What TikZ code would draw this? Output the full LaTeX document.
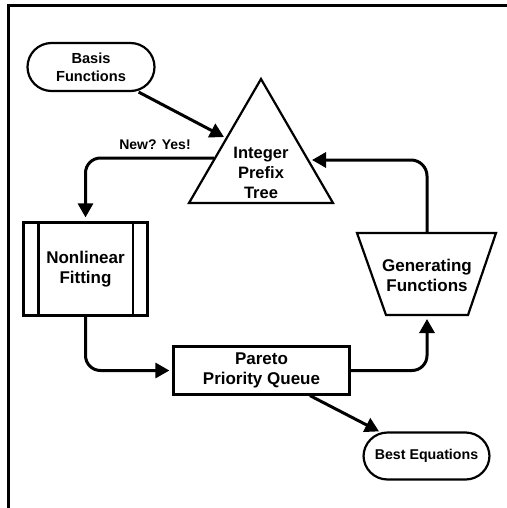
\documentclass[tikz,border=0pt]{standalone}
\usepackage{fontspec}
\setmainfont{Liberation Sans}
\usetikzlibrary{arrows.meta}
\begin{document}
\begin{tikzpicture}[x=1pt,y=1pt,
  shp/.style={draw, line width=2.2pt},
  arr/.style={line width=3pt, -{Triangle[length=14pt,width=15pt]}},
  lab/.style={font=\bfseries\fontsize{17}{20}\selectfont, align=center, inner sep=0pt}
]
\useasboundingbox (0,0) rectangle (506,-508);
\draw[line width=3pt] (8,-510) -- (8,-6) -- (510,-6);

% Basis Functions
\node[shp, rounded corners=24pt, minimum width=127pt, minimum height=48pt,
      font=\bfseries\fontsize{14.6}{18}\selectfont, align=center] (basis) at (91,-67) {Basis\\Functions};

% Integer Prefix Tree (triangle)
\draw[shp, line join=miter] (261,-79) -- (333,-203) -- (189,-203) -- cycle;
\node[lab, font=\bfseries\fontsize{16.5}{20}\selectfont] (tree) at (261,-173) {Integer\\Prefix\\Tree};
\coordinate (tL) at (224,-137);
\coordinate (tA) at (214,-158);
\coordinate (tR) at (312,-160);

% Nonlinear Fitting
\node[shp, minimum width=124pt, minimum height=93pt, lab] (fit) at (85.5,-269) {Nonlinear\\Fitting};
\draw[line width=2.2pt] ([xshift=16pt]fit.north west) -- ([xshift=16pt]fit.south west);
\draw[line width=2.2pt] ([xshift=-16pt]fit.north east) -- ([xshift=-16pt]fit.south east);

% Pareto Priority Queue
\node[shp, minimum width=176pt, minimum height=48pt, lab] (pq) at (261.5,-370.5) {Pareto\\Priority Queue};

% Generating Functions (trapezoid)
\draw[shp, line join=miter] (357,-233) -- (496,-233) -- (468,-315) -- (386,-315) -- cycle;
\node[lab] (gen) at (427,-275.5) {Generating\\Functions};
\coordinate (gT) at (427,-233);
\coordinate (gB) at (427,-315);

% Best Equations
\node[shp, rounded corners=24pt, minimum width=126pt, minimum height=47pt,
      font=\bfseries\fontsize{14.2}{17}\selectfont] (best) at (426.5,-456) {Best Equations};

% label
\node[font=\bfseries\fontsize{14}{17}\selectfont, inner sep=0pt] (newyes) at (155,-145) {New? Yes!};

% connectors
\draw[arr] (basis) -- (tL);
\draw[arr, rounded corners=15pt] (tA) -| ([yshift=4pt]fit.north);
\draw[arr, rounded corners=16pt] (gT) |- (tR);
\draw[arr, rounded corners=15pt] (fit.south) |- ([xshift=-3pt]pq.west);
\draw[arr, rounded corners=15pt] (pq.east) -| ([yshift=-4pt]gB);
\draw[arr] (pq) -- (best);
\end{tikzpicture}
\end{document}
